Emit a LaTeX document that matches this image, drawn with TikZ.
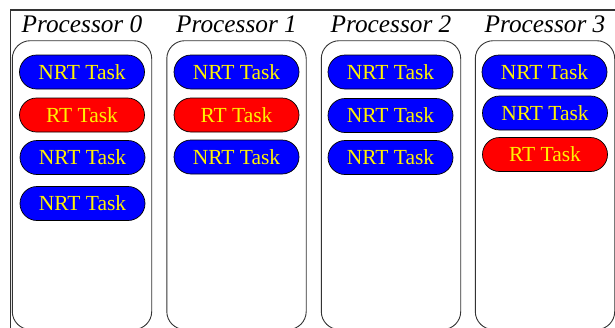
\documentclass[tikz,border=0pt]{standalone}
\usepackage{fontspec}
\setmainfont{Liberation Serif}
\begin{document}
\begin{tikzpicture}[x=1pt,y=-1pt,
  colbox/.style={draw=black!80,line width=0.9pt,rounded corners=18pt,fill=white},
  proclabel/.style={anchor=base,inner sep=0pt,font=\fontsize{25.3}{28}\selectfont\itshape},
  task/.style={draw=black,line width=0.7pt,rounded corners=17pt,minimum width=125pt,minimum height=34pt,
    inner sep=0pt,text=yellow,font=\fontsize{21.5}{24}\selectfont},
  nrt/.style={task,fill=blue},
  rt/.style={task,fill=red},
  frame/.style={draw=black!80}]
\useasboundingbox (0,0) rectangle (615,327);
\clip (0,0) rectangle (615,327);
% outer frame lines
\draw[frame,line width=1.8pt] (10,10) -- (616,10);
\draw[frame,line width=1.3pt] (10.6,10) -- (10.6,330);
% processor columns
\foreach \i/\cx in {0/82,1/236.5,2/391,3/545}{
  \draw[colbox] (\cx-69.7,40.7) rectangle (\cx+69.7,329.5);
  \node[proclabel] (lab\i) at (\cx,32.7) {Processor \i};
}
% tasks on processor 0
\node[nrt] (p0a) at (82,72) {NRT Task};
\node[rt]  (p0b) at (82,115) {RT Task};
\node[nrt] (p0c) at (82.5,157.5) {NRT Task};
\node[nrt] (p0d) at (82.5,203.5) {NRT Task};
% tasks on processor 1
\node[nrt] (p1a) at (236.5,72) {NRT Task};
\node[rt]  (p1b) at (236.5,115) {RT Task};
\node[nrt] (p1c) at (236.5,157) {NRT Task};
% tasks on processor 2
\node[nrt] (p2a) at (390.5,72) {NRT Task};
\node[nrt] (p2b) at (390.5,115.5) {NRT Task};
\node[nrt] (p2c) at (390.5,157.5) {NRT Task};
% tasks on processor 3
\node[nrt] (p3a) at (544.5,72) {NRT Task};
\node[nrt] (p3b) at (545,113) {NRT Task};
\node[rt]  (p3c) at (545,154.5) {RT Task};
\end{tikzpicture}
\end{document}
